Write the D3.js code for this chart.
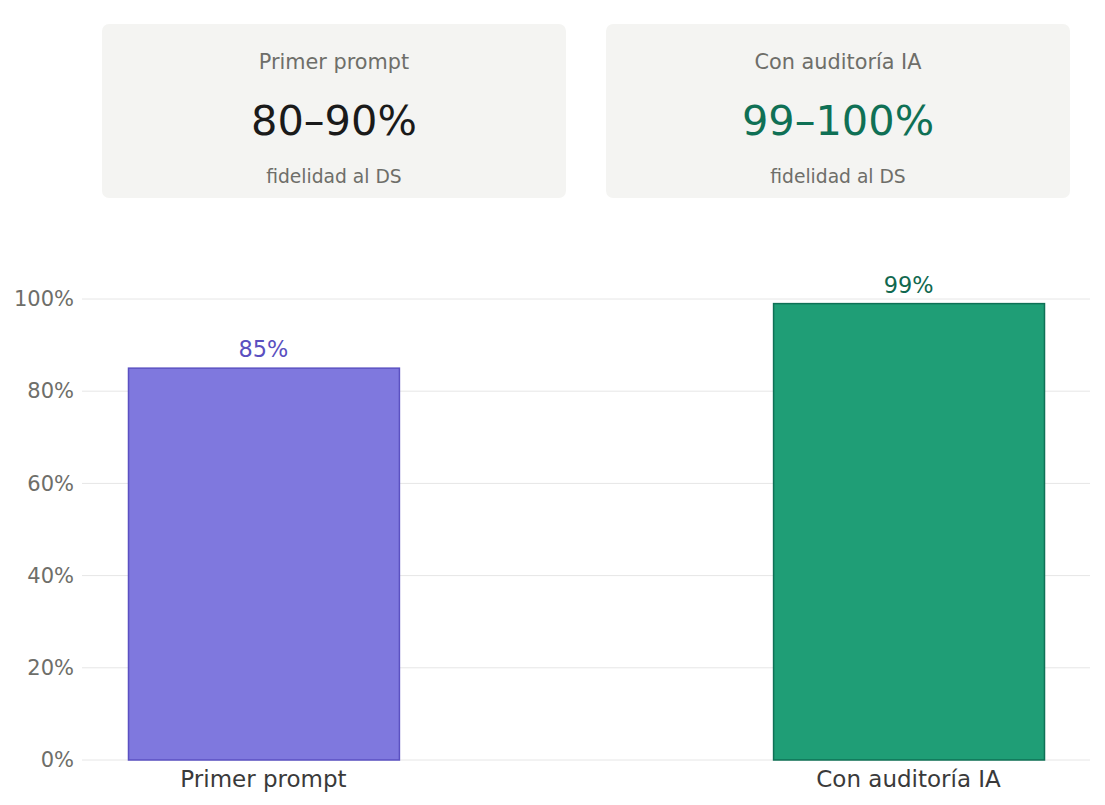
<!DOCTYPE html>
<html>
<head>
<meta charset="utf-8">
<script src="https://cdn.jsdelivr.net/npm/d3@7"></script>
<style>
  html, body { margin: 0; padding: 0; background: #ffffff; }
  svg { display: block; font-family: "DejaVu Sans", sans-serif; }
</style>
</head>
<body>
<svg id="chart" width="1105" height="805"></svg>
<script>
const categories = ["Primer prompt", "Con auditoría IA"];
const values = [85, 99];
const valueLabels = ["85%", "99%"];
const cardTitles = ["Primer prompt", "Con auditoría IA"];
const cardValues = ["80–90%", "99–100%"];
const cardSubtitles = ["fidelidad al DS", "fidelidad al DS"];
const yTicks = [0, 20, 40, 60, 80, 100];

const fills = ["#7f78de", "#1f9e76"];
const strokes = ["#5b51c2", "#0f7156"];
const labelColors = ["#5a4fc0", "#10684f"];
const cardValueColors = ["#1a1a1a", "#0f7055"];

(function () {
const svg = d3.select("#chart");

// Cards
const cardX = d3.scaleBand().domain(d3.range(cardTitles.length)).range([102, 1070]).paddingInner(0.0795);
const cards = svg.selectAll("g.card").data(cardTitles).join("g")
  .attr("class", "card")
  .attr("transform", (d, i) => `translate(${cardX(i)},24)`);
cards.append("rect")
  .attr("width", cardX.bandwidth()).attr("height", 174)
  .attr("rx", 7).attr("fill", "#f4f4f2");
cards.append("text")
  .attr("x", cardX.bandwidth() / 2).attr("y", 45)
  .attr("text-anchor", "middle").attr("font-size", 20.8).attr("fill", "#6e6e69")
  .text(d => d);
cards.append("text")
  .attr("x", cardX.bandwidth() / 2).attr("y", 111)
  .attr("text-anchor", "middle").attr("font-size", 41.5)
  .attr("fill", (d, i) => cardValueColors[i])
  .text((d, i) => cardValues[i]);
cards.append("text")
  .attr("x", cardX.bandwidth() / 2).attr("y", 158.5)
  .attr("text-anchor", "middle").attr("font-size", 18.7).attr("fill", "#6e6e69")
  .text((d, i) => cardSubtitles[i]);

// Chart
const mLeft = 82, mRight = 1090, mTop = 299, mBottom = 760;
const x = d3.scaleBand().domain(categories).range([mLeft, mRight])
  .paddingInner(0.58).paddingOuter(0.0713);
const y = d3.scaleLinear().domain([0, 100]).range([mBottom, mTop]);

// gridlines
svg.append("g").selectAll("line").data(yTicks).join("line")
  .attr("x1", mLeft).attr("x2", mRight)
  .attr("y1", d => y(d)).attr("y2", d => y(d))
  .attr("stroke", "#e6e6e6").attr("stroke-width", 1);

// y axis
const yAxis = svg.append("g").attr("transform", `translate(${mLeft},0)`)
  .call(d3.axisLeft(y).tickValues(yTicks).tickFormat(d => d + "%").tickSize(0).tickPadding(8));
yAxis.select(".domain").remove();
yAxis.selectAll("text").attr("font-size", 21).attr("fill", "#6e6e69")
  .attr("font-family", "DejaVu Sans, sans-serif");

// bars
svg.append("g").selectAll("rect").data(values).join("rect")
  .attr("x", (d, i) => x(categories[i]) + 0.5)
  .attr("y", d => y(d))
  .attr("width", x.bandwidth())
  .attr("height", d => y(0) - y(d))
  .attr("fill", (d, i) => fills[i])
  .attr("stroke", (d, i) => strokes[i])
  .attr("stroke-width", 1.5);

// value labels
svg.append("g").selectAll("text").data(values).join("text")
  .attr("x", (d, i) => x(categories[i]) + x.bandwidth() / 2)
  .attr("y", d => y(d) - 11)
  .attr("text-anchor", "middle").attr("font-size", 22.4)
  .attr("fill", (d, i) => labelColors[i])
  .text((d, i) => valueLabels[i]);

// x axis
const xAxis = svg.append("g").attr("transform", `translate(0,${mBottom})`)
  .call(d3.axisBottom(x).tickSize(0).tickPadding(11));
xAxis.select(".domain").remove();
xAxis.selectAll("text").attr("font-size", 23).attr("fill", "#3a3a3a")
  .attr("font-family", "DejaVu Sans, sans-serif");
})();
</script>
</body>
</html>
